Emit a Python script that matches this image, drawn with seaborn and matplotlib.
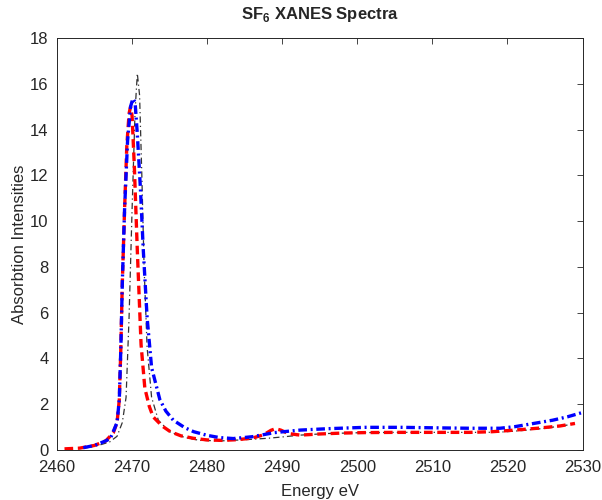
# SF6 XANES spectra, three curves
import numpy as np
import pandas as pd
import matplotlib
matplotlib.use('Agg')
import matplotlib.pyplot as plt
import seaborn as sns

# Red dashed spectrum
red_energy = [2461, 2463, 2465, 2466.5, 2467.5, 2468.0, 2468.3, 2468.5, 2468.7, 2469.0, 2469.3,
              2469.6, 2469.8, 2470.0, 2470.3, 2470.7, 2471.2, 2471.7, 2472.3, 2472.8, 2474,
              2475.1, 2476.5, 2478.2, 2480, 2482, 2484, 2486, 2487.5, 2488.5, 2489.1, 2489.8,
              2490.8, 2492.4, 2495, 2498, 2501, 2505, 2510, 2515, 2518, 2521, 2524, 2527, 2529]
red_int = [0.05, 0.08, 0.2, 0.4, 0.75, 1.2, 2.2, 4.4, 7.3, 10.5, 13.3,
           14.7, 15.0, 14.6, 12.4, 8.7, 4.6, 2.7, 1.9, 1.45, 1.05,
           0.8, 0.62, 0.51, 0.44, 0.42, 0.45, 0.52, 0.66, 0.86, 0.93, 0.87,
           0.72, 0.65, 0.7, 0.74, 0.76, 0.77, 0.77, 0.77, 0.8, 0.87, 0.95, 1.05, 1.16]

# Blue dash-dot spectrum
blue_energy = [2463.5, 2465, 2466.5, 2467.1, 2468.0, 2468.3, 2468.5, 2468.7, 2469.0, 2469.4,
               2469.8, 2470.1, 2470.4, 2470.7, 2471.1, 2471.5, 2472.0, 2472.6, 2473.7, 2474.5,
               2475.5, 2477, 2478.2, 2480, 2481.7, 2483.5, 2486, 2488, 2489, 2490.2, 2492.4,
               2496, 2501, 2506, 2510, 2515, 2519, 2521, 2523.5, 2526, 2528, 2530]
blue_int = [0.1, 0.2, 0.4, 0.5, 1.2, 2.2, 4.4, 7.3, 10.5, 13.5,
            15.0, 15.35, 15.2, 13.8, 11.5, 8.7, 5.8, 3.6, 2.2, 1.7,
            1.3, 0.98, 0.8, 0.64, 0.54, 0.5, 0.58, 0.7, 0.76, 0.8, 0.87,
            0.93, 0.99, 0.99, 0.97, 0.95, 0.95, 1.02, 1.16, 1.3, 1.45, 1.64]

# Black thin dash-dot spectrum
black_energy = [2464, 2465.5, 2467, 2468, 2468.7, 2469.2, 2469.6, 2470.0, 2470.4, 2470.7,
                2471.0, 2471.3, 2471.6, 2472.0, 2472.6, 2473.5, 2475, 2477, 2479, 2482,
                2485, 2488, 2490, 2492.4, 2496, 2501, 2506, 2512, 2517, 2519, 2522, 2525, 2528]
black_int = [0.1, 0.2, 0.35, 0.6, 1.2, 2.3, 5.8, 10.5, 14.8, 16.45,
             15.5, 12, 8, 4.5, 2.3, 1.3, 0.8, 0.55, 0.42, 0.4,
             0.45, 0.51, 0.57, 0.65, 0.72, 0.76, 0.77, 0.77, 0.77, 0.78, 0.85, 0.95, 1.09]

sns.set_style('white')
plt.rcParams['font.family'] = ['Liberation Sans', 'DejaVu Sans']
plt.rcParams['mathtext.fontset'] = 'custom'
plt.rcParams['mathtext.rm'] = 'Liberation Sans'
plt.rcParams['mathtext.bf'] = 'Liberation Sans:bold'

axis_col = '#262626'
fig = plt.figure(figsize=(6.02, 5.0), dpi=100)
ax = fig.add_axes([57 / 602, 0.1, (582.5 - 57) / 602, (450 - 38) / 500])

sns.lineplot(x=black_energy, y=black_int, ax=ax, sort=False, color='#333333',
             linestyle=(0, (5, 2.5, 1, 2.5)), linewidth=0.9)
sns.lineplot(x=red_energy, y=red_int, ax=ax, sort=False, color='red',
             linestyle=(0, (2.6, 1.4)), linewidth=2.4)
sns.lineplot(x=blue_energy, y=blue_int, ax=ax, sort=False, color='blue',
             linestyle=(0, (2.6, 1.1, 0.6, 1.1)), linewidth=2.4)

ax.set_xlim(2460, 2530)
ax.set_ylim(0, 18)
ax.set_xticks(np.arange(2460, 2531, 10))
ax.set_yticks(np.arange(0, 19, 2))
ax.tick_params(direction='in', top=True, right=True, labelsize=12,
               colors=axis_col, length=4, width=0.6)
ax.tick_params(axis='x', pad=7)
ax.tick_params(axis='y', pad=6)
for s in ax.spines.values():
    s.set_color(axis_col)
    s.set_linewidth(0.7)

ax.set_xlabel('Energy eV', fontsize=12, color=axis_col, labelpad=7)
ax.set_ylabel('Absorbtion Intensities', fontsize=12, color=axis_col, labelpad=2)
ax.set_title(r'SF$_{\mathbf{6}}$ XANES Spectra', fontsize=12, fontweight='bold', pad=14)

fig.savefig('out.png', dpi=100)
